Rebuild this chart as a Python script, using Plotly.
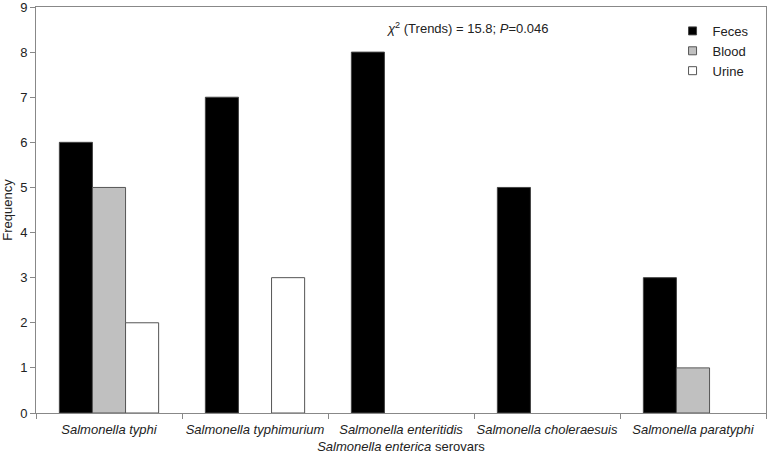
import plotly.graph_objects as go

categories = ["<i>Salmonella typhi</i>", "<i>Salmonella typhimurium</i>", "<i>Salmonella enteritidis</i>",
              "<i>Salmonella choleraesuis</i>", "<i>Salmonella paratyphi</i>"]
series_names = ["Feces", "Blood", "Urine"]
feces = [6, 7, 8, 5, 3]
blood = [5, 0, 0, 0, 1]
urine = [2, 3, 0, 0, 0]

fills = ["#000000", "#c0c0c0", "#ffffff"]
edges = ["#444444", "#555555", "#555555"]

fig = go.Figure()
for name, vals, fc, ec in zip(series_names, [feces, blood, urine], fills, edges):
    fig.add_trace(go.Bar(name=name, x=categories, y=[v if v else None for v in vals],
                         marker=dict(color=fc, line=dict(color=ec, width=1)),
                         showlegend=False))
    fig.add_trace(go.Scatter(name=name, x=[None], y=[None], mode="markers",
                             marker=dict(symbol="square", size=8, color=fc,
                                         line=dict(color=ec, width=1)),
                             showlegend=True))

fig.update_layout(
    width=772, height=454,
    margin=dict(l=36, r=6, t=7, b=41),
    barmode="group", bargap=0.32, bargroupgap=0,
    plot_bgcolor="white", paper_bgcolor="white",
    font=dict(family="Liberation Sans, Arial, sans-serif", size=13, color="#222222"),
    xaxis=dict(showline=True, linecolor="#888888", linewidth=1, mirror=True,
               ticks="outside", tickson="boundaries", ticklen=5, tickcolor="#888888",
               automargin=False, tickangle=0, ticklabelstandoff=4,
               title=dict(text="<i>Salmonella enterica</i> serovars", standoff=6,
                          font=dict(size=13)),
               tickfont=dict(size=13)),
    yaxis=dict(range=[0, 9], dtick=1, showline=True, linecolor="#888888", linewidth=1,
               mirror=True, ticks="outside", ticklen=5, tickcolor="#888888",
               showgrid=False, zeroline=False, automargin=False,
               ticklabeloverflow="allow",
               title=dict(text="Frequency", standoff=4, font=dict(size=13)),
               tickfont=dict(size=13)),
    legend=dict(x=0.872, y=0.978, xanchor="left", yanchor="top",
                bgcolor="rgba(0,0,0,0)", font=dict(size=13)),
    annotations=[dict(text="<i>χ</i><sup>2</sup> (Trends) = 15.8; <i>P</i>=0.046",
                      x=0.592, y=0.948, xref="paper", yref="paper", showarrow=False,
                      xanchor="center", yanchor="middle", font=dict(size=13))],
)

fig.write_html("out.html", config={"displayModeBar": False},
               post_script="document.body.style.margin='0';")
